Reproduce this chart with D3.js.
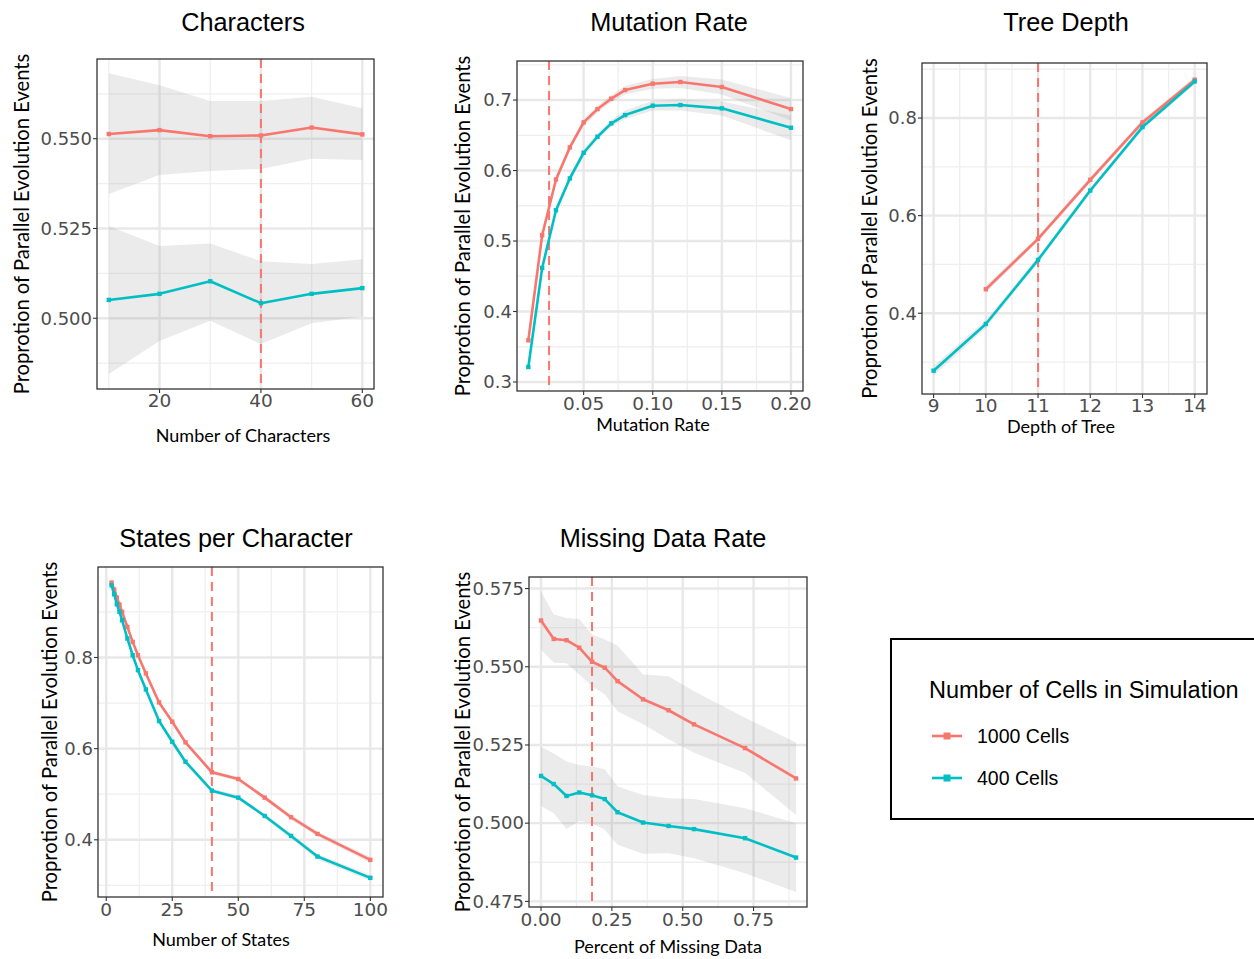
<!DOCTYPE html>
<html><head><meta charset="utf-8">
<script src="https://cdn.jsdelivr.net/npm/d3@7"></script>
<style>
html,body{margin:0;padding:0;background:#fff;}
svg{display:block;}
</style></head>
<body>
<script>
// ---------- DATA ----------
const seriesNames = ["1000 Cells", "400 Cells"];
const legendTitle = "Number of Cells in Simulation";
const yAxisTitle = "Proprotion of Parallel Evolution Events";

// Characters
const charX = [10, 20, 30, 40, 50, 60];
const char1000 = [0.5513, 0.5524, 0.5507, 0.5509, 0.5531, 0.5512];
const char1000Hi = [0.5682, 0.5649, 0.5605, 0.5605, 0.5617, 0.5585];
const char1000Lo = [0.5346, 0.5399, 0.5410, 0.5416, 0.5444, 0.5441];
const char400 = [0.5051, 0.5068, 0.5103, 0.5042, 0.5068, 0.5084];
const char400Hi = [0.5257, 0.5201, 0.5208, 0.5159, 0.5151, 0.5164];
const char400Lo = [0.4845, 0.4937, 0.4993, 0.4928, 0.4986, 0.5005];

// Mutation rate
const mutX = [0.01, 0.02, 0.03, 0.04, 0.05, 0.06, 0.07, 0.08, 0.10, 0.12, 0.15, 0.20];
const mut1000 = [0.3591, 0.5082, 0.5873, 0.6328, 0.6683, 0.6872, 0.7019, 0.7142, 0.7232, 0.7256, 0.7185, 0.6872];
const mut1000Hi = [0.364, 0.513, 0.592, 0.637, 0.673, 0.692, 0.707, 0.720, 0.730, 0.734, 0.729, 0.703];
const mut1000Lo = [0.354, 0.503, 0.582, 0.628, 0.663, 0.682, 0.697, 0.708, 0.716, 0.717, 0.708, 0.671];
const mut400 = [0.3212, 0.4618, 0.5437, 0.5888, 0.6252, 0.6479, 0.6669, 0.6787, 0.6920, 0.6929, 0.6882, 0.6607];
const mut400Hi = [0.326, 0.467, 0.549, 0.594, 0.630, 0.653, 0.672, 0.685, 0.699, 0.701, 0.698, 0.678];
const mut400Lo = [0.316, 0.457, 0.539, 0.584, 0.620, 0.643, 0.662, 0.673, 0.685, 0.685, 0.678, 0.643];

// Tree depth
const depthX1000 = [10, 11, 12, 13, 14];
const depth1000 = [0.4492, 0.5524, 0.6735, 0.7910, 0.8786];
const depth1000Hi = [0.456, 0.558, 0.679, 0.797, 0.884];
const depth1000Lo = [0.442, 0.547, 0.668, 0.785, 0.873];
const depthX400 = [9, 10, 11, 12, 13, 14];
const depth400 = [0.2823, 0.3780, 0.5093, 0.6515, 0.7815, 0.8751];
const depth400Hi = [0.292, 0.386, 0.515, 0.657, 0.787, 0.881];
const depth400Lo = [0.272, 0.370, 0.503, 0.646, 0.776, 0.869];

// States per character
const statesX = [2, 3, 4, 5, 6, 8, 10, 12, 15, 20, 25, 30, 40, 50, 60, 70, 80, 100];
const states1000 = [0.9643, 0.949, 0.9314, 0.9161, 0.9, 0.867, 0.8342, 0.805, 0.765, 0.7014, 0.659, 0.6138, 0.5481, 0.5334, 0.4925, 0.4495, 0.4129, 0.356];
const states1000Hi = [0.968, 0.953, 0.935, 0.920, 0.904, 0.871, 0.838, 0.809, 0.769, 0.706, 0.664, 0.618, 0.553, 0.538, 0.497, 0.455, 0.418, 0.363];
const states1000Lo = [0.960, 0.945, 0.927, 0.912, 0.896, 0.863, 0.830, 0.801, 0.761, 0.697, 0.654, 0.609, 0.543, 0.529, 0.488, 0.444, 0.408, 0.349];
const states400 = [0.9584, 0.9387, 0.9168, 0.9, 0.8817, 0.8416, 0.805, 0.7722, 0.7299, 0.6605, 0.6151, 0.5713, 0.5078, 0.4925, 0.4523, 0.4085, 0.3632, 0.3165];
const states400Hi = [0.962, 0.943, 0.921, 0.904, 0.886, 0.846, 0.809, 0.776, 0.734, 0.665, 0.620, 0.576, 0.513, 0.497, 0.457, 0.414, 0.369, 0.323];
const states400Lo = [0.954, 0.935, 0.913, 0.896, 0.878, 0.838, 0.801, 0.768, 0.726, 0.656, 0.610, 0.566, 0.503, 0.488, 0.448, 0.403, 0.357, 0.310];

// Missing data
const missX = [0, 0.045, 0.09, 0.135, 0.18, 0.225, 0.27, 0.36, 0.45, 0.54, 0.72, 0.90];
const miss1000 = [0.5648, 0.5589, 0.5585, 0.5561, 0.5516, 0.5497, 0.5454, 0.5396, 0.5361, 0.5316, 0.5240, 0.5143];
const miss1000Hi = [0.5741, 0.5667, 0.5656, 0.5653, 0.5603, 0.5587, 0.5568, 0.5475, 0.5470, 0.5422, 0.5337, 0.5258];
const miss1000Lo = [0.5555, 0.5513, 0.5511, 0.5475, 0.5438, 0.5412, 0.5358, 0.5316, 0.5268, 0.5225, 0.5160, 0.5027];
const miss400 = [0.5151, 0.5125, 0.5087, 0.5098, 0.5089, 0.5077, 0.5035, 0.5002, 0.4991, 0.4981, 0.4952, 0.4890];
const miss400Hi = [0.5244, 0.5223, 0.5197, 0.5186, 0.5181, 0.5172, 0.5117, 0.5090, 0.5080, 0.5077, 0.5048, 0.5000];
const miss400Lo = [0.5055, 0.5032, 0.4981, 0.5007, 0.5000, 0.4979, 0.4931, 0.4902, 0.4904, 0.4888, 0.4840, 0.4780];

// ---------- STYLE / LAYOUT ----------
const W = 1254, H = 959;
const COL = ["#F8766D", "#00BFC4"];
const TITLE_FONT = "'Liberation Sans', Arial, sans-serif";
const TICK_FONT = "'DejaVu Sans', sans-serif";
const LAB_FONT = "Lato, 'Noto Sans', sans-serif";

const panels = [
  { title: "Characters", tx: 243, ty: 22, xlab: "Number of Characters", xlx: 243, xly: 436, ylx: 22,
    box: [97, 59, 374, 389], xd: [7.67, 62.3], yd: [0.4803, 0.5722],
    xt: [20, 40, 60], xm: [10, 30, 50], yt: [0.500, 0.525, 0.550], ym: [0.4875, 0.5125, 0.5375, 0.5625],
    fx: d3.format("d"), fy: d3.format(".3f"), vline: 40, xtickY: 401,
    series: [[charX, char1000, char1000Lo, char1000Hi], [charX, char400, char400Lo, char400Hi]] },
  { title: "Mutation Rate", tx: 669, ty: 22, xlab: "Mutation Rate", xlx: 653, xly: 425, ylx: 463,
    box: [517, 61, 803, 391], xd: [0.0018, 0.2087], yd: [0.2872, 0.7554],
    xt: [0.05, 0.10, 0.15, 0.20], xm: [0.025, 0.075, 0.125, 0.175], yt: [0.3, 0.4, 0.5, 0.6, 0.7], ym: [0.35, 0.45, 0.55, 0.65, 0.75],
    fx: d3.format(".2f"), fy: d3.format(".1f"), vline: 0.025, xtickY: 404,
    series: [[mutX, mut1000, mut1000Lo, mut1000Hi], [mutX, mut400, mut400Lo, mut400Hi]] },
  { title: "Tree Depth", tx: 1066, ty: 22, xlab: "Depth of Tree", xlx: 1061, xly: 427, ylx: 870,
    box: [922, 63, 1207, 394], xd: [8.778, 14.235], yd: [0.2345, 0.9128],
    xt: [9, 10, 11, 12, 13, 14], xm: [9.5, 10.5, 11.5, 12.5, 13.5], yt: [0.4, 0.6, 0.8], ym: [0.3, 0.5, 0.7, 0.9],
    fx: d3.format("d"), fy: d3.format(".1f"), vline: 11, xtickY: 406,
    series: [[depthX1000, depth1000, depth1000Lo, depth1000Hi], [depthX400, depth400, depth400Lo, depth400Hi]] },
  { title: "States per Character", tx: 236, ty: 538, xlab: "Number of States", xlx: 221, xly: 940, ylx: 50,
    box: [98, 567, 383, 897], xd: [-3.13, 104.8], yd: [0.2745, 0.9985],
    xt: [0, 25, 50, 75, 100], xm: [12.5, 37.5, 62.5, 87.5], yt: [0.4, 0.6, 0.8], ym: [0.3, 0.5, 0.7, 0.9],
    fx: d3.format("d"), fy: d3.format(".1f"), vline: 40, xtickY: 910,
    series: [[statesX, states1000, states1000Lo, states1000Hi], [statesX, states400, states400Lo, states400Hi]] },
  { title: "Missing Data Rate", tx: 663, ty: 538, xlab: "Percent of Missing Data", xlx: 668, xly: 947, ylx: 463,
    box: [529, 577, 807, 907], xd: [-0.0424, 0.9386], yd: [0.4732, 0.5787],
    xt: [0, 0.25, 0.50, 0.75], xm: [0.125, 0.375, 0.625, 0.875], yt: [0.475, 0.500, 0.525, 0.550, 0.575], ym: [0.4875, 0.5125, 0.5375, 0.5625],
    fx: d3.format(".2f"), fy: d3.format(".3f"), vline: 0.18, xtickY: 920,
    series: [[missX, miss1000, miss1000Lo, miss1000Hi], [missX, miss400, miss400Lo, miss400Hi]] }
];

const svg = d3.select("body").append("svg").attr("width", W).attr("height", H);

panels.forEach(p => {
  const [x0, y0, x1, y1] = p.box;
  const x = d3.scaleLinear().domain(p.xd).range([x0, x1]);
  const y = d3.scaleLinear().domain(p.yd).range([y1, y0]);
  const g = svg.append("g");
  const clipId = "clip" + Math.round(x0) + "_" + Math.round(y0);
  g.append("clipPath").attr("id", clipId).append("rect")
    .attr("x", x0).attr("y", y0).attr("width", x1 - x0).attr("height", y1 - y0);

  // grid
  const grid = g.append("g").attr("clip-path", `url(#${clipId})`);
  grid.selectAll(".gxm").data(p.xm).enter().append("line")
    .attr("x1", d => x(d)).attr("x2", d => x(d)).attr("y1", y0).attr("y2", y1)
    .attr("stroke", "#efefef").attr("stroke-width", 1.3);
  grid.selectAll(".gym").data(p.ym).enter().append("line")
    .attr("y1", d => y(d)).attr("y2", d => y(d)).attr("x1", x0).attr("x2", x1)
    .attr("stroke", "#efefef").attr("stroke-width", 1.3);
  grid.selectAll(".gx").data(p.xt).enter().append("line")
    .attr("x1", d => x(d)).attr("x2", d => x(d)).attr("y1", y0).attr("y2", y1)
    .attr("stroke", "#e8e8e8").attr("stroke-width", 2.4);
  grid.selectAll(".gy").data(p.yt).enter().append("line")
    .attr("y1", d => y(d)).attr("y2", d => y(d)).attr("x1", x0).attr("x2", x1)
    .attr("stroke", "#e8e8e8").attr("stroke-width", 2.4);

  const plot = g.append("g").attr("clip-path", `url(#${clipId})`);
  // ribbons
  p.series.forEach(s => {
    const [xs, , lo, hi] = s;
    const pts = xs.map((v, i) => ({ x: v, lo: lo[i], hi: hi[i] }));
    plot.append("path").datum(pts)
      .attr("d", d3.area().x(d => x(d.x)).y0(d => y(d.lo)).y1(d => y(d.hi)))
      .attr("fill", "#999999").attr("fill-opacity", 0.2);
  });
  // dashed vline
  plot.append("line").attr("x1", x(p.vline)).attr("x2", x(p.vline)).attr("y1", y0).attr("y2", y1)
    .attr("stroke", "#F8766D").attr("stroke-width", 2).attr("stroke-dasharray", "9,6");
  // lines + points
  p.series.forEach((s, k) => {
    const [xs, vs] = s;
    const pts = xs.map((v, i) => ({ x: v, y: vs[i] }));
    plot.append("path").datum(pts)
      .attr("d", d3.line().x(d => x(d.x)).y(d => y(d.y)))
      .attr("fill", "none").attr("stroke", COL[k]).attr("stroke-width", 2.6)
      .attr("stroke-linejoin", "round");
    plot.selectAll(".pt" + k).data(pts).enter().append("rect")
      .attr("x", d => x(d.x) - 2.2).attr("y", d => y(d.y) - 2.2)
      .attr("width", 4.4).attr("height", 4.4).attr("fill", COL[k]);
  });

  // border
  g.append("rect").attr("x", x0).attr("y", y0).attr("width", x1 - x0).attr("height", y1 - y0)
    .attr("fill", "none").attr("stroke", "#333333").attr("stroke-width", 1.3);

  // ticks
  g.selectAll(".tx").data(p.xt).enter().append("line")
    .attr("x1", d => x(d)).attr("x2", d => x(d)).attr("y1", y1).attr("y2", y1 + 4)
    .attr("stroke", "#333").attr("stroke-width", 1.1);
  g.selectAll(".ty").data(p.yt).enter().append("line")
    .attr("y1", d => y(d)).attr("y2", d => y(d)).attr("x1", x0 - 4).attr("x2", x0)
    .attr("stroke", "#333").attr("stroke-width", 1.1);
  g.selectAll(".txl").data(p.xt).enter().append("text")
    .attr("x", d => x(d)).attr("y", p.xtickY).attr("dy", "0.35em")
    .attr("text-anchor", "middle").attr("font-family", TICK_FONT).attr("font-size", 18.5)
    .attr("fill", "#4d4d4d").text(d => p.fx(d));
  g.selectAll(".tyl").data(p.yt).enter().append("text")
    .attr("x", x0 - 5).attr("y", d => y(d)).attr("dy", "0.35em")
    .attr("text-anchor", "end").attr("font-family", TICK_FONT).attr("font-size", 18)
    .attr("fill", "#4d4d4d").text(d => p.fy(d));

  // titles
  g.append("text").attr("x", p.tx).attr("y", p.ty).attr("dy", "0.35em")
    .attr("text-anchor", "middle").attr("font-family", TITLE_FONT).attr("font-size", 25.3)
    .attr("fill", "#000").text(p.title);
  g.append("text").attr("x", p.xlx).attr("y", p.xly).attr("dy", "0.35em")
    .attr("text-anchor", "middle").attr("font-family", LAB_FONT).attr("font-size", 18)
    .attr("fill", "#000").text(p.xlab);
  g.append("text").attr("transform", `translate(${p.ylx},${(y0 + y1) / 2}) rotate(-90)`)
    .attr("dy", "0.35em").attr("text-anchor", "middle").attr("font-family", LAB_FONT)
    .attr("font-size", 20.2).attr("fill", "#000").text(yAxisTitle);
});

// legend
const lg = svg.append("g");
lg.append("rect").attr("x", 891).attr("y", 639).attr("width", 380).attr("height", 180)
  .attr("fill", "#fff").attr("stroke", "#000").attr("stroke-width", 2);
lg.append("text").attr("x", 929).attr("y", 690).attr("dy", "0.35em")
  .attr("font-family", TITLE_FONT).attr("font-size", 23.5).attr("fill", "#000").text(legendTitle);
seriesNames.forEach((n, i) => {
  const yy = 736 + i * 42;
  lg.append("line").attr("x1", 932).attr("x2", 962).attr("y1", yy).attr("y2", yy)
    .attr("stroke", COL[i]).attr("stroke-width", 2.6);
  lg.append("rect").attr("x", 943.5).attr("y", yy - 3.5).attr("width", 7).attr("height", 7).attr("fill", COL[i]);
  lg.append("text").attr("x", 977).attr("y", yy).attr("dy", "0.35em")
    .attr("font-family", TITLE_FONT).attr("font-size", 19.5).attr("fill", "#000").text(n);
});
</script>
</body></html>
